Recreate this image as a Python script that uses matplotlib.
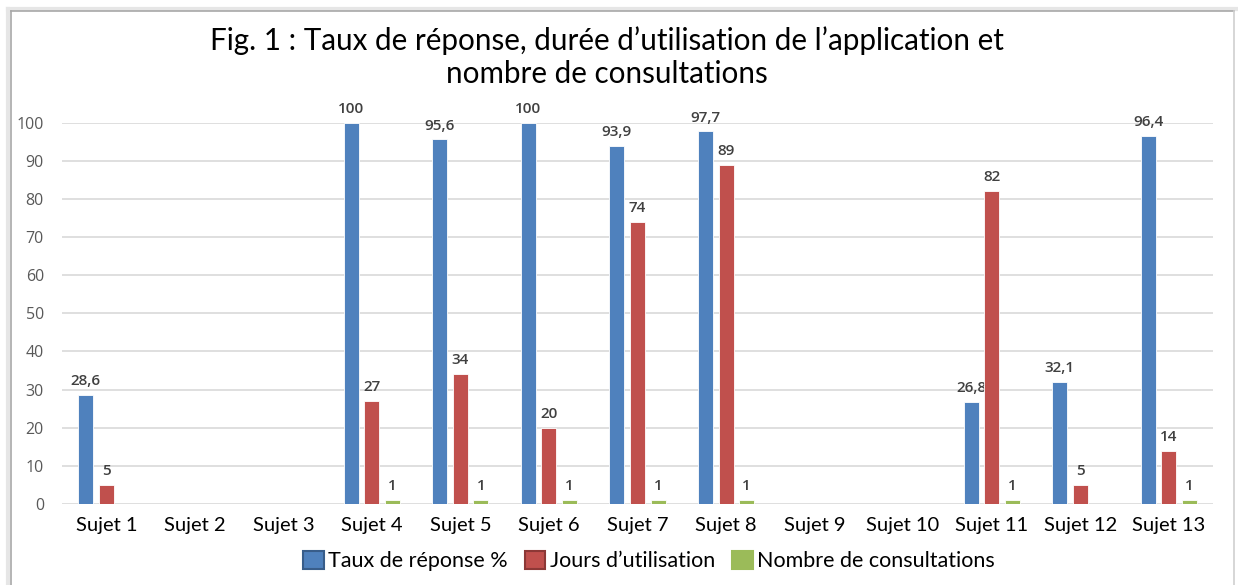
import matplotlib
matplotlib.use("Agg")
import matplotlib.pyplot as plt
import numpy as np
from matplotlib.patches import Patch
from matplotlib.lines import Line2D

categories = ["Sujet 1", "Sujet 2", "Sujet 3", "Sujet 4", "Sujet 5", "Sujet 6", "Sujet 7",
              "Sujet 8", "Sujet 9", "Sujet 10", "Sujet 11", "Sujet 12", "Sujet 13"]
taux = [28.6, 0, 0, 100, 95.6, 100, 93.9, 97.7, 0, 0, 26.8, 32.1, 96.4]
jours = [5, 0, 0, 27, 34, 20, 74, 89, 0, 0, 82, 5, 14]
consult = [0, 0, 0, 1, 1, 1, 1, 1, 0, 0, 1, 0, 1]
series_names = ["Taux de réponse %", "Jours d\u2019utilisation", "Nombre de consultations"]
colors = ["#4F81BD", "#C0504D", "#9BBB59"]
edge_colors = ["#385D8A", "#8C3836", "#9BBB59"]
yticks = [0, 10, 20, 30, 40, 50, 60, 70, 80, 90, 100]
title = "Fig. 1 : Taux de réponse, durée d\u2019utilisation de l\u2019application et\nnombre de consultations"

W, H = 1238, 585
fig = plt.figure(figsize=(W / 100, H / 100), dpi=100)
fig.patch.set_facecolor("white")

# frame
fx = lambda px: px / W
fy = lambda py: 1 - py / H
fig.add_artist(Line2D([fx(8), fx(8)], [fy(9), 0], color="#E6E6E6", lw=3))
fig.add_artist(Line2D([fx(8), fx(1236)], [fy(9), fy(9)], color="#E6E6E6", lw=3))
fig.add_artist(Line2D([fx(11), fx(11)], [fy(11), 0], color="#A8A8A8", lw=1.2))
fig.add_artist(Line2D([fx(11), fx(1234)], [fy(11), fy(11)], color="#A8A8A8", lw=1.2))
fig.add_artist(Line2D([fx(1234), fx(1234)], [fy(11), 0], color="#D0D0D0", lw=1.2))

ax = fig.add_axes([fx(62), fy(504), fx(1213) - fx(62), fy(122.7) - fy(504)])
x = np.arange(len(categories))
width = 0.17
step = 0.232
all_series = [taux, jours, consult]
for i, (vals, c, ec) in enumerate(zip(all_series, colors, edge_colors)):
    pos = x + (i - 1) * step
    ax.bar(pos, vals, width=width, color=c, edgecolor="white", linewidth=0.6, zorder=3)
    for p, v in zip(pos, vals):
        if v > 0:
            lab = f"{v:g}".replace(".", ",")
            ax.annotate(lab, (p, v), xytext=(0, 5), textcoords="offset points",
                        ha="center", va="bottom", fontsize=11, color="#404040",
                        family="Open Sans", fontweight="semibold", clip_on=False)

ax.set_xlim(-0.5, len(categories) - 0.5)
ax.set_ylim(0, 100)
ax.set_yticks(yticks)
ax.set_yticklabels([str(t) for t in yticks], fontsize=11.5, color="#595959", family="Open Sans")
ax.set_xticks(x)
ax.set_xticklabels(categories, fontsize=14.5, color="black", family="Lato")
ax.tick_params(axis="both", length=0)
ax.tick_params(axis="y", pad=13)
ax.tick_params(axis="x", pad=9)
ax.grid(axis="y", color="#D9D9D9", lw=1.2, zorder=0)
for s in ax.spines.values():
    s.set_visible(False)

fig.text(fx(607), fy(57), title, ha="center", va="center", fontsize=21.3, family="Lato",
         linespacing=1.25, color="black")

handles = [Patch(facecolor=c, edgecolor=ec, linewidth=1.5) for c, ec in zip(colors, edge_colors)]
fig.legend(handles, series_names, loc="center", bbox_to_anchor=(fx(649), fy(561)), ncol=3,
           frameon=False, prop={"family": "Lato", "size": 15.5}, handlelength=0.95,
           handleheight=0.95, handletextpad=0.2, columnspacing=0.8)

fig.savefig("out.png", dpi=100, facecolor="white")
